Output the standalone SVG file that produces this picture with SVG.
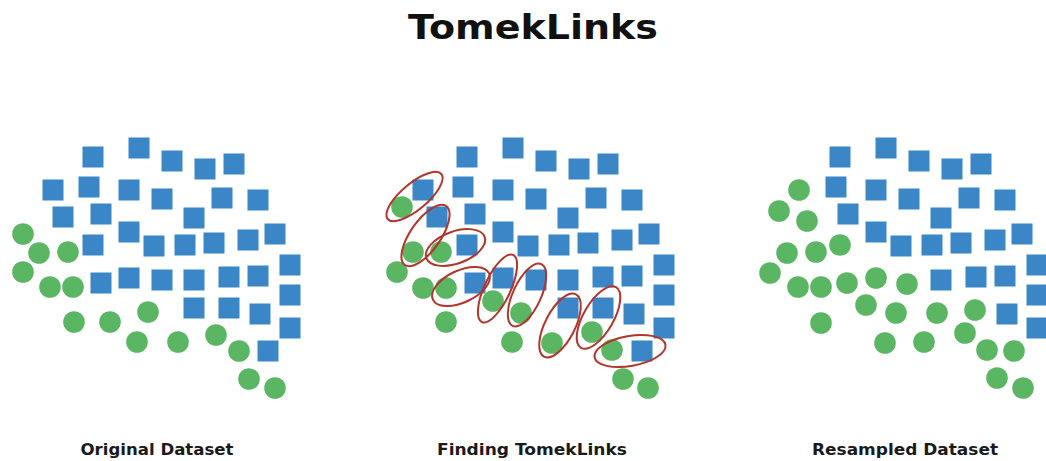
<svg xmlns="http://www.w3.org/2000/svg" xmlns:xlink="http://www.w3.org/1999/xlink" width="1046" height="461" viewBox="0 0 1046 461">
  <style>
    .maj { fill: #3b86c6; }
    .min { fill: #5ab663; }
    .link { fill: none; stroke: #b3342b; stroke-width: 2; }
    .title { font-family: "DejaVu Sans", "Liberation Sans", sans-serif; font-weight: bold; font-size: 33px; fill: #111; }
    .cap { font-family: "DejaVu Sans", "Liberation Sans", sans-serif; font-weight: bold; font-size: 16.5px; fill: #1a1a1a; }
  </style>
  <defs>
    <rect id="sq" x="-10.5" y="-10.5" width="21" height="21"/>
    <circle id="dot" r="10.8"/>
  </defs>
  <rect width="1046" height="461" fill="#ffffff"/>

  <text class="title" x="533" y="39" text-anchor="middle" textLength="250" lengthAdjust="spacingAndGlyphs">TomekLinks</text>

  <!-- Panel 1: original dataset -->
  <g id="original">
    <g id="original-majority" class="maj">
      <use href="#sq" x="93" y="157"/><use href="#sq" x="139" y="148"/><use href="#sq" x="172" y="161"/><use href="#sq" x="205" y="169"/><use href="#sq" x="234" y="164"/>
      <use href="#sq" x="53" y="190"/><use href="#sq" x="89" y="187"/><use href="#sq" x="129" y="190"/><use href="#sq" x="162" y="199"/><use href="#sq" x="222" y="198"/><use href="#sq" x="258" y="200"/>
      <use href="#sq" x="63" y="217"/><use href="#sq" x="101" y="214"/><use href="#sq" x="194" y="218"/>
      <use href="#sq" x="129" y="232"/>
      <use href="#sq" x="93" y="245"/><use href="#sq" x="154" y="246"/><use href="#sq" x="185" y="245"/><use href="#sq" x="214" y="243"/><use href="#sq" x="248" y="240"/><use href="#sq" x="275" y="234"/>
      <use href="#sq" x="290" y="265"/>
      <use href="#sq" x="101" y="283"/><use href="#sq" x="129" y="278"/><use href="#sq" x="162" y="280"/><use href="#sq" x="194" y="280"/><use href="#sq" x="229" y="277"/><use href="#sq" x="258" y="276"/>
      <use href="#sq" x="290" y="295"/>
      <use href="#sq" x="194" y="308"/><use href="#sq" x="229" y="308"/><use href="#sq" x="260" y="314"/><use href="#sq" x="290" y="328"/>
      <use href="#sq" x="268" y="351"/>
    </g>
    <g id="original-minority" class="min">
      <use href="#dot" x="23" y="234"/><use href="#dot" x="39" y="253"/><use href="#dot" x="68" y="252"/><use href="#dot" x="23" y="272"/>
      <use href="#dot" x="50" y="287"/><use href="#dot" x="73" y="287"/><use href="#dot" x="74" y="322"/><use href="#dot" x="110" y="322"/>
      <use href="#dot" x="148" y="312"/><use href="#dot" x="137" y="342"/><use href="#dot" x="178" y="342"/><use href="#dot" x="216" y="335"/>
      <use href="#dot" x="239" y="351"/><use href="#dot" x="249" y="379"/><use href="#dot" x="275" y="388"/>
    </g>
    <text class="cap" x="157" y="455" text-anchor="middle" textLength="153" lengthAdjust="spacingAndGlyphs">Original Dataset</text>
  </g>

  <!-- Panel 2: finding the links -->
  <g id="finding">
    <g id="finding-majority" class="maj" transform="translate(374,0)">
      <use href="#sq" x="93" y="157"/><use href="#sq" x="139" y="148"/><use href="#sq" x="172" y="161"/><use href="#sq" x="205" y="169"/><use href="#sq" x="234" y="164"/>
      <use href="#sq" x="49" y="190"/><use href="#sq" x="89" y="187"/><use href="#sq" x="129" y="190"/><use href="#sq" x="162" y="199"/><use href="#sq" x="222" y="198"/><use href="#sq" x="258" y="200"/>
      <use href="#sq" x="63" y="217"/><use href="#sq" x="101" y="214"/><use href="#sq" x="194" y="218"/>
      <use href="#sq" x="129" y="232"/>
      <use href="#sq" x="93" y="245"/><use href="#sq" x="154" y="246"/><use href="#sq" x="185" y="245"/><use href="#sq" x="214" y="243"/><use href="#sq" x="248" y="240"/><use href="#sq" x="275" y="234"/>
      <use href="#sq" x="290" y="265"/>
      <use href="#sq" x="101" y="283"/><use href="#sq" x="129" y="278"/><use href="#sq" x="162" y="280"/><use href="#sq" x="194" y="280"/><use href="#sq" x="229" y="277"/><use href="#sq" x="258" y="276"/>
      <use href="#sq" x="290" y="295"/>
      <use href="#sq" x="194" y="308"/><use href="#sq" x="229" y="308"/><use href="#sq" x="260" y="314"/><use href="#sq" x="290" y="328"/>
      <use href="#sq" x="268" y="351"/>
    </g>
    <g id="finding-minority" class="min">
      <use href="#dot" x="402" y="207"/><use href="#dot" x="413" y="252"/><use href="#dot" x="441" y="252"/><use href="#dot" x="397" y="272"/>
      <use href="#dot" x="423" y="288"/><use href="#dot" x="446" y="288"/><use href="#dot" x="446" y="322"/><use href="#dot" x="493" y="301"/>
      <use href="#dot" x="521" y="313"/><use href="#dot" x="512" y="342"/><use href="#dot" x="552" y="343"/><use href="#dot" x="592" y="332"/>
      <use href="#dot" x="612" y="350"/><use href="#dot" x="623" y="379"/><use href="#dot" x="648" y="388"/>
    </g>
    <g id="tomek-links" class="link">
      <ellipse cx="414.5" cy="196.5" rx="35" ry="13" transform="rotate(-40 414.5 196.5)"/>
      <ellipse cx="425.5" cy="235.5" rx="36" ry="15" transform="rotate(-55 425.5 235.5)"/>
      <ellipse cx="455.5" cy="247.5" rx="31" ry="16" transform="rotate(-20 455.5 247.5)"/>
      <ellipse cx="461" cy="286.5" rx="31" ry="16" transform="rotate(-25 461 286.5)"/>
      <ellipse cx="497.5" cy="288.5" rx="37" ry="13" transform="rotate(-65 497.5 288.5)"/>
      <ellipse cx="527" cy="295" rx="34" ry="14" transform="rotate(-65 527 295)"/>
      <ellipse cx="560" cy="325.5" rx="35" ry="15" transform="rotate(-63 560 325.5)"/>
      <ellipse cx="598.5" cy="317.5" rx="35" ry="15" transform="rotate(-60 598.5 317.5)"/>
      <ellipse cx="630" cy="351" rx="36" ry="15" transform="rotate(-10 630 351)"/>
    </g>
    <text class="cap" x="532" y="455" text-anchor="middle" textLength="190" lengthAdjust="spacingAndGlyphs">Finding TomekLinks</text>
  </g>

  <!-- Panel 3: resampled dataset -->
  <g id="resampled">
    <g id="resampled-majority" class="maj">
      <use href="#sq" x="840" y="157"/><use href="#sq" x="886" y="148"/><use href="#sq" x="919" y="161"/><use href="#sq" x="952" y="169"/><use href="#sq" x="981" y="164"/>
      <use href="#sq" x="836" y="187"/><use href="#sq" x="876" y="190"/><use href="#sq" x="909" y="199"/><use href="#sq" x="969" y="198"/><use href="#sq" x="1005" y="200"/>
      <use href="#sq" x="848" y="214"/><use href="#sq" x="941" y="218"/>
      <use href="#sq" x="876" y="232"/>
      <use href="#sq" x="901" y="246"/><use href="#sq" x="932" y="245"/><use href="#sq" x="961" y="243"/><use href="#sq" x="995" y="240"/><use href="#sq" x="1022" y="234"/>
      <use href="#sq" x="1037" y="265"/>
      <use href="#sq" x="941" y="280"/><use href="#sq" x="976" y="277"/><use href="#sq" x="1005" y="276"/>
      <use href="#sq" x="1037" y="295"/>
      <use href="#sq" x="1007" y="314"/><use href="#sq" x="1037" y="328"/>
    </g>
    <g id="resampled-minority" class="min">
      <use href="#dot" x="799" y="190"/><use href="#dot" x="779" y="211"/><use href="#dot" x="807" y="221"/><use href="#dot" x="840" y="245"/>
      <use href="#dot" x="787" y="253"/><use href="#dot" x="816" y="252"/><use href="#dot" x="770" y="273"/><use href="#dot" x="798" y="287"/>
      <use href="#dot" x="821" y="287"/><use href="#dot" x="847" y="283"/><use href="#dot" x="876" y="278"/><use href="#dot" x="907" y="284"/>
      <use href="#dot" x="866" y="305"/><use href="#dot" x="896" y="313"/><use href="#dot" x="937" y="313"/><use href="#dot" x="975" y="310"/>
      <use href="#dot" x="821" y="323"/><use href="#dot" x="885" y="343"/><use href="#dot" x="924" y="342"/><use href="#dot" x="965" y="333"/>
      <use href="#dot" x="987" y="350"/><use href="#dot" x="1014" y="351"/><use href="#dot" x="997" y="378"/><use href="#dot" x="1023" y="388"/>
    </g>
    <text class="cap" x="905" y="455" text-anchor="middle" textLength="186" lengthAdjust="spacingAndGlyphs">Resampled Dataset</text>
  </g>
</svg>
